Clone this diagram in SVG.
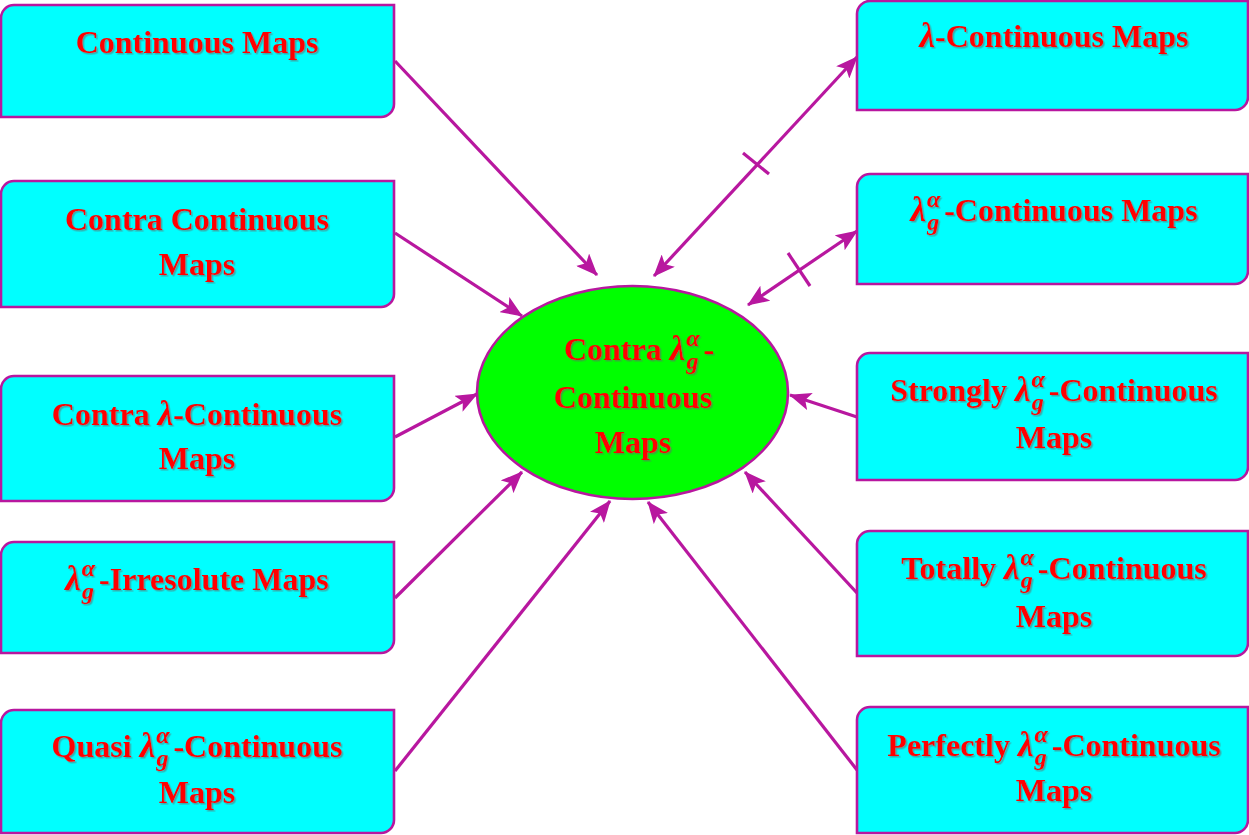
<svg xmlns="http://www.w3.org/2000/svg" width="1249" height="835" viewBox="0 0 1249 835">
<style>
.box{fill:#00FFFF;stroke:#B8179F;stroke-width:2.6}
.ell{fill:#00FF00;stroke:#B8179F;stroke-width:2.6}
.t{font-family:"Liberation Serif","Times New Roman",serif;font-weight:bold;font-size:32px;fill:#FF0000;text-anchor:middle;filter:url(#sh)}
.m{font-style:italic;font-size:35px}
.s{font-style:italic;font-size:24px}
.c line{stroke:#B8179F;stroke-width:3.2}
</style>
<defs>
<filter id="sh" x="-10%" y="-20%" width="120%" height="150%">
<feDropShadow dx="1.5" dy="1.5" stdDeviation="0.7" flood-color="#666" flood-opacity="0.55"/>
</filter>
<marker id="ah" markerUnits="userSpaceOnUse" markerWidth="22" markerHeight="18" viewBox="0 0 22 18" refX="21" refY="9" orient="auto-start-reverse">
<path d="M0,0 L22,9 L0,18 L5,9 Z" fill="#B8179F"/>
</marker>
</defs>
<g class="c" id="connectors">
<line x1="395" y1="61" x2="597" y2="275" marker-end="url(#ah)"/>
<line x1="395" y1="233" x2="522" y2="316" marker-end="url(#ah)"/>
<line x1="395" y1="437" x2="477" y2="394" marker-end="url(#ah)"/>
<line x1="395" y1="598" x2="522" y2="472" marker-end="url(#ah)"/>
<line x1="395" y1="771" x2="610" y2="501" marker-end="url(#ah)"/>
<line x1="857" y1="57" x2="654" y2="276" marker-start="url(#ah)" marker-end="url(#ah)"/>
<line x1="743" y1="153" x2="769" y2="174"/>
<line x1="857" y1="231" x2="748" y2="305" marker-start="url(#ah)" marker-end="url(#ah)"/>
<line x1="788" y1="253" x2="810" y2="286"/>
<line x1="857" y1="417" x2="790" y2="395" marker-end="url(#ah)"/>
<line x1="857" y1="593" x2="745" y2="472" marker-end="url(#ah)"/>
<line x1="857" y1="770" x2="648" y2="502" marker-end="url(#ah)"/>
</g>
<g id="n-center">
<ellipse class="ell" cx="632.5" cy="392.5" rx="155.5" ry="106.5"/>
<text class="t" x="639" y="360">Contra <tspan class="m">λ</tspan><tspan class="s" dx="1" dy="-14">α</tspan><tspan class="s" dx="-13" dy="23">g</tspan><tspan dx="5" dy="-9">-</tspan></text>
<text class="t" x="633" y="408">Continuous</text>
<text class="t" x="633" y="453">Maps</text>
</g>
<g id="n-l1">
<path class="box" d="M1,18 A13,13 0 0 1 14,5 H394 V104 A13,13 0 0 1 381,117 H1 Z"/>
<text class="t" x="197" y="53">Continuous Maps</text>
</g>
<g id="n-l2">
<path class="box" d="M1,194 A13,13 0 0 1 14,181 H394 V294 A13,13 0 0 1 381,307 H1 Z"/>
<text class="t" x="197" y="230">Contra Continuous</text>
<text class="t" x="197" y="275">Maps</text>
</g>
<g id="n-l3">
<path class="box" d="M1,389 A13,13 0 0 1 14,376 H394 V488 A13,13 0 0 1 381,501 H1 Z"/>
<text class="t" x="197" y="425">Contra <tspan class="m">λ</tspan>-Continuous</text>
<text class="t" x="197" y="469">Maps</text>
</g>
<g id="n-l4">
<path class="box" d="M1,555 A13,13 0 0 1 14,542 H394 V640 A13,13 0 0 1 381,653 H1 Z"/>
<text class="t" x="197" y="590"><tspan class="m">λ</tspan><tspan class="s" dx="1" dy="-14">α</tspan><tspan class="s" dx="-13" dy="23">g</tspan><tspan dx="5" dy="-9">-Irresolute Maps</tspan></text>
</g>
<g id="n-l5">
<path class="box" d="M1,723 A13,13 0 0 1 14,710 H394 V820 A13,13 0 0 1 381,833 H1 Z"/>
<text class="t" x="197" y="757">Quasi <tspan class="m">λ</tspan><tspan class="s" dx="1" dy="-14">α</tspan><tspan class="s" dx="-13" dy="23">g</tspan><tspan dx="5" dy="-9">-Continuous</tspan></text>
<text class="t" x="197" y="803">Maps</text>
</g>
<g id="n-r1">
<path class="box" d="M857,14 A13,13 0 0 1 870,1 H1248 V97 A13,13 0 0 1 1235,110 H857 Z"/>
<text class="t" x="1054" y="47"><tspan class="m">λ</tspan>-Continuous Maps</text>
</g>
<g id="n-r2">
<path class="box" d="M857,187 A13,13 0 0 1 870,174 H1248 V271 A13,13 0 0 1 1235,284 H857 Z"/>
<text class="t" x="1054" y="221"><tspan class="m">λ</tspan><tspan class="s" dx="1" dy="-14">α</tspan><tspan class="s" dx="-13" dy="23">g</tspan><tspan dx="5" dy="-9">-Continuous Maps</tspan></text>
</g>
<g id="n-r3">
<path class="box" d="M857,366 A13,13 0 0 1 870,353 H1248 V467 A13,13 0 0 1 1235,480 H857 Z"/>
<text class="t" x="1054" y="401">Strongly <tspan class="m">λ</tspan><tspan class="s" dx="1" dy="-14">α</tspan><tspan class="s" dx="-13" dy="23">g</tspan><tspan dx="5" dy="-9">-Continuous</tspan></text>
<text class="t" x="1054" y="448">Maps</text>
</g>
<g id="n-r4">
<path class="box" d="M857,544 A13,13 0 0 1 870,531 H1248 V643 A13,13 0 0 1 1235,656 H857 Z"/>
<text class="t" x="1054" y="579">Totally <tspan class="m">λ</tspan><tspan class="s" dx="1" dy="-14">α</tspan><tspan class="s" dx="-13" dy="23">g</tspan><tspan dx="5" dy="-9">-Continuous</tspan></text>
<text class="t" x="1054" y="627">Maps</text>
</g>
<g id="n-r5">
<path class="box" d="M857,720 A13,13 0 0 1 870,707 H1248 V820 A13,13 0 0 1 1235,833 H857 Z"/>
<text class="t" x="1054" y="756">Perfectly <tspan class="m">λ</tspan><tspan class="s" dx="1" dy="-14">α</tspan><tspan class="s" dx="-13" dy="23">g</tspan><tspan dx="5" dy="-9">-Continuous</tspan></text>
<text class="t" x="1054" y="801">Maps</text>
</g>
</svg>
